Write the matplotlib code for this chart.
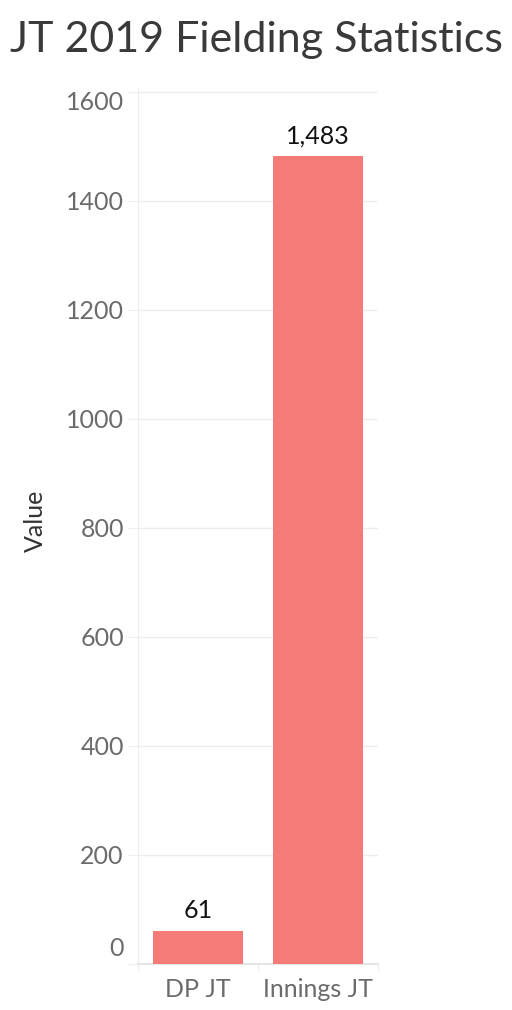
import matplotlib
matplotlib.use("Agg")
import matplotlib.pyplot as plt
import matplotlib.transforms as mtransforms

categories = ["DP JT", "Innings JT"]
values = [61, 1483]
value_labels = ["61", "1,483"]
yticks = [0, 200, 400, 600, 800, 1000, 1200, 1400, 1600]

plt.rcParams['font.family'] = ['Lato', 'DejaVu Sans']

fig = plt.figure(figsize=(5.12, 10.10), dpi=100)
ax = fig.add_axes([138 / 512, 1 - 964 / 1010, 240 / 512, (964 - 88) / 1010])

x = list(range(len(categories)))
ax.bar(x, values, width=0.75, color="#F47B78", zorder=3)
for xi, v, lab in zip(x, values, value_labels):
    ax.annotate(lab, (xi, v), xytext=(0, 6), textcoords="offset points",
                ha="center", va="bottom", fontsize=18, color="#111111")

ax.set_xlim(-0.5, 1.5)
ax.set_ylim(0, 1607)
ax.set_yticks(yticks)
ax.set_yticklabels([str(t) for t in yticks])
ax.grid(axis="y", color="#EDEDED", linewidth=1, zorder=0)
ax.tick_params(axis="y", length=7.2, color="#EDEDED", labelsize=18,
               labelcolor="#6B6B6B", pad=3)

# category labels, ticks at the separators
ax.set_xticks(x)
ax.set_xticklabels(categories)
ax.tick_params(axis="x", length=0, labelsize=18, labelcolor="#6B6B6B", pad=10)
ax.set_xticks([-0.5, 0.5, 1.5], minor=True)
ax.tick_params(axis="x", which="minor", length=4, color="#E6E6E6")

for s in ["top", "right"]:
    ax.spines[s].set_visible(False)
ax.spines["left"].set_color("#EDEDED")
ax.spines["bottom"].set_color("#E6E6E6")
ax.spines["bottom"].set_linewidth(1.5)

# keep first and last labels inside the axis range
labels = ax.get_yticklabels()
labels[0].set_transform(labels[0].get_transform() +
                        mtransforms.ScaledTranslation(0, 0.17, fig.dpi_scale_trans))
labels[-1].set_transform(labels[-1].get_transform() +
                         mtransforms.ScaledTranslation(0, -0.09, fig.dpi_scale_trans))

ax.set_ylabel("Value", fontsize=18, color="#333333")
ax.yaxis.set_label_coords(-91 / 240, 0.506)

fig.text(0.5, 1 - 52 / 1010, "JT 2019 Fielding Statistics", ha="center", va="baseline",
         fontsize=31, color="#3A3A3A")

fig.savefig("out.png", dpi=100)
